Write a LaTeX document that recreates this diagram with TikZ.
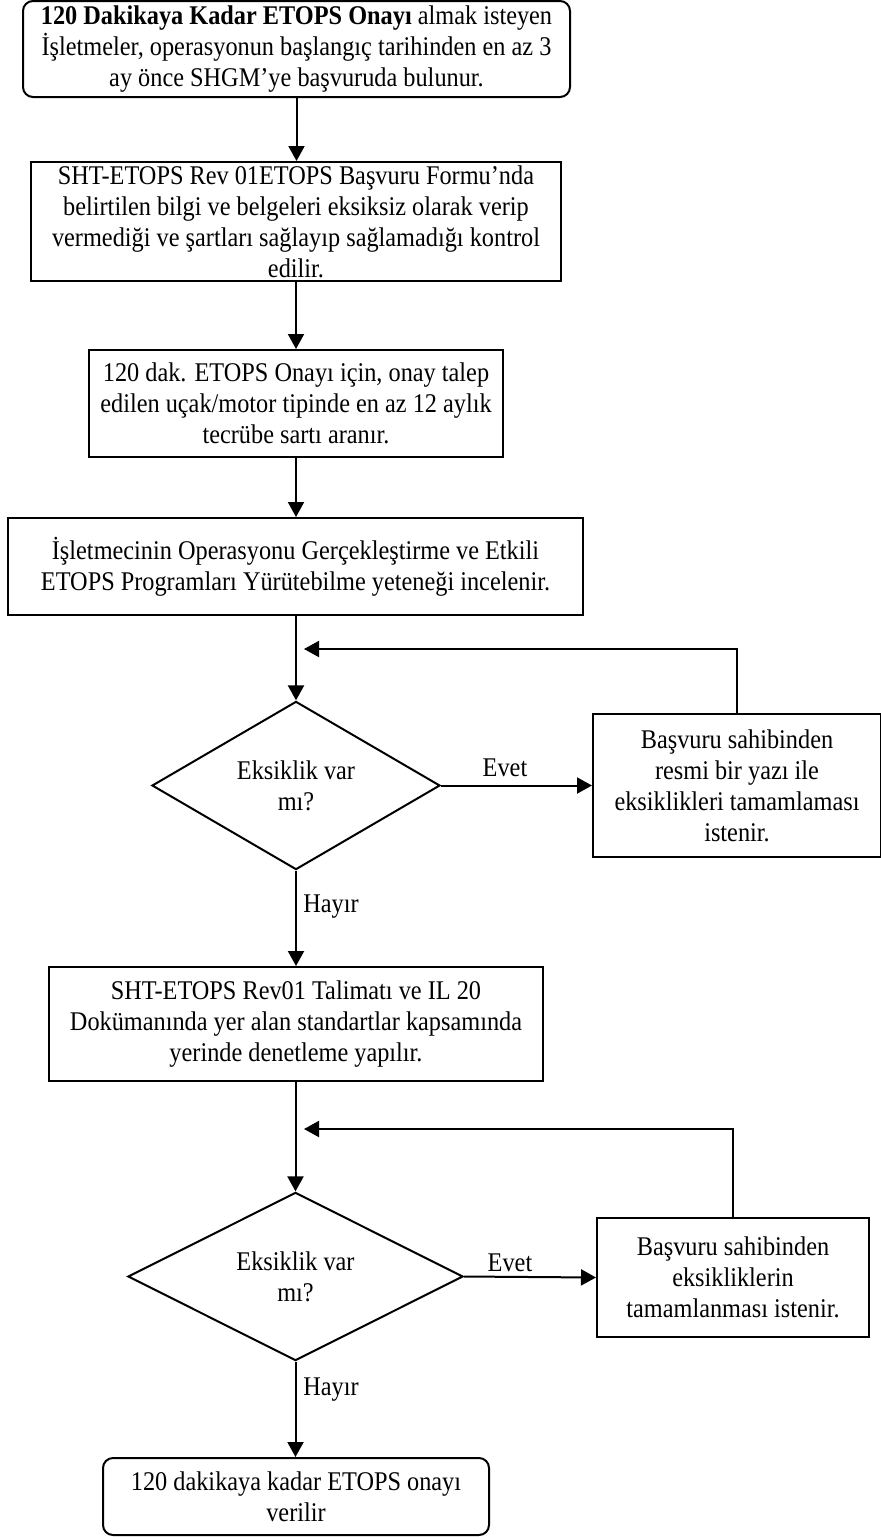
\documentclass[tikz,border=0pt]{standalone}
\usepackage{fontspec}
\setmainfont{Liberation Serif}[FakeStretch=0.9]
\usetikzlibrary{arrows.meta,shapes.geometric}
\begin{document}
\begin{tikzpicture}[x=0.5pt,y=-0.5pt,
  every node/.style={font=\fontsize{13.5pt}{15.5pt}\selectfont, align=center, inner sep=0pt},
  box/.style={draw, line width=1pt, rectangle},
  rbox/.style={box, rounded corners=5pt},
  dec/.style={draw, line width=1pt, diamond},
  conn/.style={line width=1pt, -{Triangle[length=7.5pt,width=8pt]}},
  lbl/.style={anchor=west}]
\useasboundingbox (0,0) rectangle (880,1537);

\node[rbox, minimum width=273.5pt, minimum height=48pt] (b1) at (296.5,49)
  {\textbf{120 Dakikaya Kadar ETOPS Onayı} almak isteyen\\
   İşletmeler, operasyonun başlangıç tarihinden en az 3\\
   ay önce SHGM’ye başvuruda bulunur.};

\node[box, minimum width=265pt, minimum height=59.5pt] (b2) at (296,221.5)
  {SHT-ETOPS Rev 01ETOPS Başvuru Formu’nda\\
   belirtilen bilgi ve belgeleri eksiksiz olarak verip\\
   vermediği ve şartları sağlayıp sağlamadığı kontrol\\
   edilir.};

\node[box, minimum width=207pt, minimum height=53.5pt] (b3) at (296,403.5)
  {120 dak. ETOPS Onayı için, onay talep\\
   edilen uçak/motor tipinde en az 12 aylık\\
   tecrübe sartı aranır.};

\node[box, minimum width=287.5pt, minimum height=48.5pt] (b4) at (295.5,566.5)
  {İşletmecinin Operasyonu Gerçekleştirme ve Etkili\\
   ETOPS Programları Yürütebilme yeteneği incelenir.};

\node[dec, minimum width=144pt, minimum height=71.5pt] (d1) at (296,785.5)
  {Eksiklik var\\mı?};

\node[box, minimum width=144pt, minimum height=71.5pt] (r1) at (737,785.5)
  {Başvuru sahibinden\\resmi bir yazı ile\\eksiklikleri tamamlaması\\istenir.};

\node[box, minimum width=247pt, minimum height=57pt] (b5) at (296,1024)
  {SHT-ETOPS Rev01 Talimatı ve IL 20\\
   Dokümanında yer alan standartlar kapsamında\\
   yerinde denetleme yapılır.};

\node[dec, minimum width=167.5pt, minimum height=71.5pt] (d2) at (295.5,1276.5)
  {Eksiklik var\\mı?};

\node[box, minimum width=136pt, minimum height=59.5pt] (r2) at (733,1277.5)
  {Başvuru sahibinden\\eksikliklerin\\tamamlanması istenir.};

\node[rbox, minimum width=193pt, minimum height=38.5pt] (b6) at (296,1496.5)
  {120 dakikaya kadar ETOPS onayı\\verilir};

\node (e1) at (505,768) {Evet};
\node (e2) at (510,1263) {Evet};
\node[lbl] (h1) at (303,907) {Hayır};
\node[lbl] (h2) at (303,1390) {Hayır};

\coordinate (f1) at (304,649);
\coordinate (f2) at (304,1129);

\draw[conn] (b1.south) -- (b1.south |- b2.north);
\draw[conn] (b2.south) -- (b2.south |- b3.north);
\draw[conn] (b3.south) -- (b3.south |- b4.north);
\draw[conn] (b4.south -| d1.north) -- (d1.north);
\draw[conn] (d1.east) -- (r1.west);
\draw[conn] (r1.north) |- (f1);
\draw[conn] (d1.south) -- (d1.south |- b5.north);
\draw[conn] (b5.south -| d2.north) -- (d2.north);
\draw[conn] (d2.east) -- (r2.west);
\draw[conn] (r2.north) |- (f2);
\draw[conn] (d2.south) -- (d2.south |- b6.north);
\end{tikzpicture}
\end{document}
